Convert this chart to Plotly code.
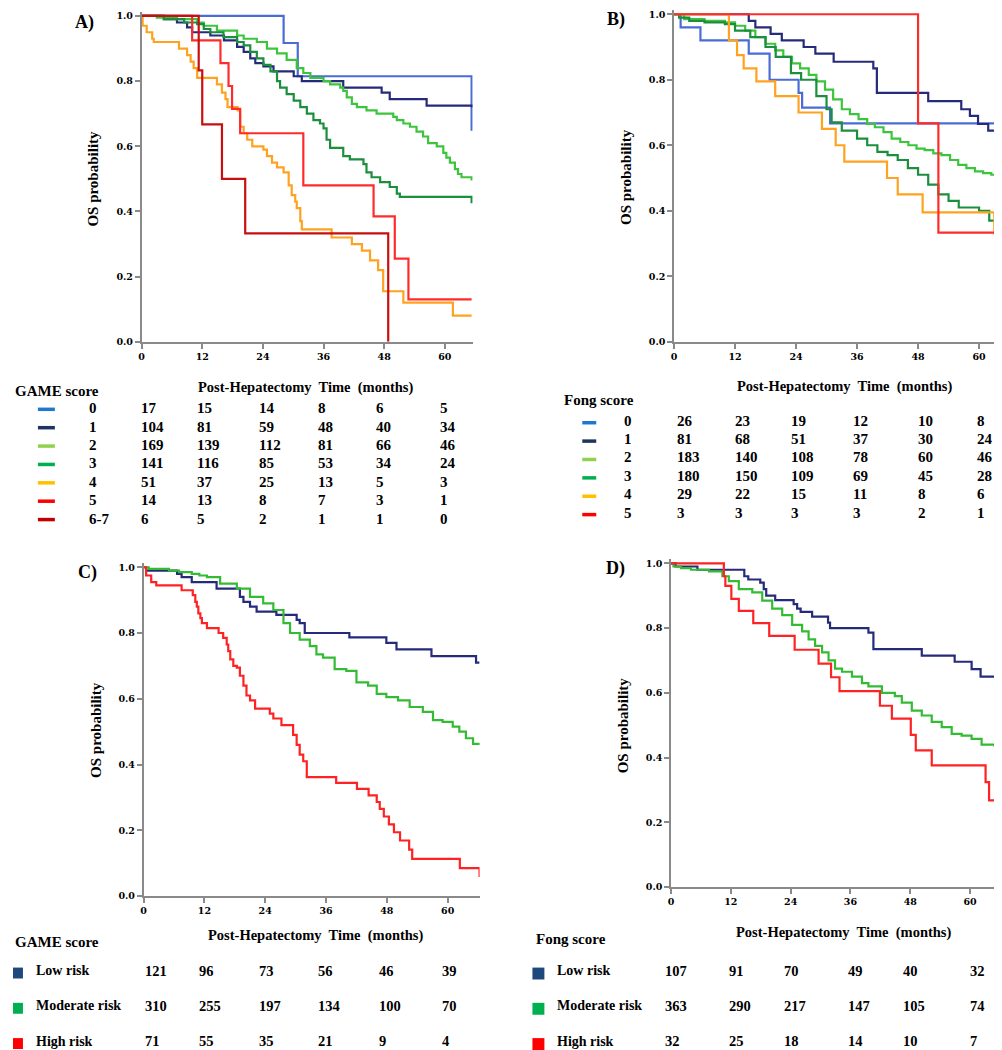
import plotly.graph_objects as go

W, H = 1002, 1050
SERIF = "Liberation Serif"

# ---------------- data ----------------
month_ticks = [0, 12, 24, 36, 48, 60]
surv_ticks = [0.0, 0.2, 0.4, 0.6, 0.8, 1.0]

# Panel A: GAME score groups
a_labels = ["0", "1", "2", "3", "4", "5", "6-7"]
a_t0 = [0, 28.1, 30.9, 65.3]
a_s0 = [1, 0.917, 0.815, 0.648]
a_t1 = [0, 4.4, 7.0, 9.0, 10.0, 13.6, 16.3, 18.9, 20.2, 21.5, 22.5, 24.1, 26.1, 30.1, 31.7, 39.9, 47.5, 49.1, 56.4, 65.3]
a_s1 = [1, 0.99, 0.98, 0.965, 0.95, 0.94, 0.925, 0.905, 0.89, 0.87, 0.855, 0.845, 0.83, 0.815, 0.80, 0.78, 0.765, 0.745, 0.725, 0.72]
a_t2 = [0, 3, 7, 11.0, 12.3, 14.9, 18.9, 20.2, 22.8, 24.8, 26.8, 28.7, 30.7, 32.0, 33.4, 36.0, 37.3, 39.3, 39.9, 40.6, 41.6, 42.6, 44.5, 46.5, 49.8, 50.5, 51.8, 53.1, 54.4, 55.7, 56.7, 58.4, 59.7, 60.3, 61.0, 62.0, 62.6, 63.3, 65.3]
a_s2 = [1, 0.995, 0.99, 0.98, 0.97, 0.955, 0.94, 0.93, 0.92, 0.90, 0.885, 0.865, 0.84, 0.825, 0.81, 0.80, 0.79, 0.78, 0.77, 0.75, 0.73, 0.72, 0.71, 0.70, 0.69, 0.68, 0.67, 0.66, 0.645, 0.63, 0.61, 0.60, 0.58, 0.565, 0.55, 0.53, 0.515, 0.505, 0.495]
a_t3 = [0, 4.4, 8.4, 11.0, 12.3, 13.6, 16.2, 18.9, 20.2, 21.5, 22.8, 24.1, 25.5, 26.8, 27.4, 28.7, 30.1, 31.4, 32.7, 34.0, 35.3, 36.0, 36.6, 37.3, 39.9, 41.2, 43.9, 44.5, 45.5, 47.2, 49.1, 50.5, 51.1, 65.3]
a_s3 = [1, 0.99, 0.98, 0.975, 0.96, 0.95, 0.935, 0.92, 0.91, 0.89, 0.87, 0.85, 0.83, 0.80, 0.78, 0.76, 0.74, 0.72, 0.70, 0.68, 0.67, 0.655, 0.62, 0.595, 0.57, 0.56, 0.545, 0.52, 0.505, 0.49, 0.475, 0.455, 0.445, 0.425]
a_t4 = [0, 0.2, 1.0, 2.1, 2.4, 7.4, 9.0, 9.7, 10.3, 11.0, 14.9, 15.9, 16.6, 17.0, 19.0, 19.5, 20.2, 20.9, 21.9, 24.1, 24.8, 25.8, 26.8, 28.1, 29.1, 29.7, 30.4, 30.7, 31.4, 31.7, 37.6, 41.6, 43.6, 45.2, 46.8, 47.8, 51.8, 61.6, 65.3]
a_s4 = [1, 0.97, 0.95, 0.93, 0.92, 0.90, 0.88, 0.86, 0.84, 0.81, 0.79, 0.765, 0.745, 0.72, 0.71, 0.66, 0.64, 0.62, 0.60, 0.59, 0.57, 0.55, 0.535, 0.52, 0.48, 0.45, 0.43, 0.41, 0.37, 0.345, 0.32, 0.30, 0.28, 0.25, 0.22, 0.155, 0.12, 0.08, 0.08]
a_t5 = [0, 10.0, 15.6, 17.2, 17.9, 19.5, 32.0, 45.9, 50.1, 52.8, 65.3]
a_s5 = [1, 0.925, 0.855, 0.785, 0.715, 0.64, 0.48, 0.385, 0.255, 0.13, 0.13]
a_t6 = [0, 11.3, 12.0, 15.9, 20.5, 48.8]
a_s6 = [1, 0.833, 0.667, 0.5, 0.333, 0.0]

a_risk0 = [17, 15, 14, 8, 6, 5]
a_risk1 = [104, 81, 59, 48, 40, 34]
a_risk2 = [169, 139, 112, 81, 66, 46]
a_risk3 = [141, 116, 85, 53, 34, 24]
a_risk4 = [51, 37, 25, 13, 5, 3]
a_risk5 = [14, 13, 8, 7, 3, 1]
a_risk6 = [6, 5, 2, 1, 1, 0]

# Panel B: Fong score groups
b_labels = ["0", "1", "2", "3", "4", "5"]
b_t0 = [0, 1.3, 5.2, 14.7, 18.8, 24.5, 25.2, 30.7, 65.3]
b_s0 = [1, 0.96, 0.92, 0.88, 0.80, 0.76, 0.715, 0.667, 0.667]
b_t1 = [0, 14.7, 16.0, 19.0, 21.2, 25.5, 27.8, 31.4, 39.2, 39.9, 50.0, 56.5, 58.2, 59.8, 61.8, 65.0, 65.3]
b_s1 = [1, 0.98, 0.96, 0.94, 0.92, 0.90, 0.88, 0.855, 0.835, 0.76, 0.735, 0.71, 0.69, 0.665, 0.645, 0.62, 0.62]
b_t2 = [0, 2, 6, 10, 12, 14, 16, 18, 19.9, 21.5, 23.2, 24.8, 26.5, 28, 29.7, 31.3, 33.0, 34.6, 36.3, 38, 39.5, 41.2, 42.8, 44.5, 46.1, 47.7, 49.3, 51, 52.6, 54.3, 55.9, 57.5, 59.2, 60.8, 62.4, 64, 65.3]
b_s2 = [1, 0.985, 0.98, 0.975, 0.965, 0.95, 0.93, 0.91, 0.89, 0.87, 0.85, 0.835, 0.815, 0.795, 0.77, 0.74, 0.71, 0.695, 0.68, 0.665, 0.655, 0.64, 0.62, 0.61, 0.60, 0.59, 0.585, 0.575, 0.57, 0.555, 0.54, 0.53, 0.52, 0.515, 0.51, 0.505, 0.495]
b_t3 = [0, 1, 3, 6, 10, 12, 15, 18, 20, 23, 25, 28, 30, 31, 33, 36, 38, 40, 42, 44, 46, 48, 50, 52, 54, 56, 60, 62, 65.3]
b_s3 = [1, 0.99, 0.98, 0.975, 0.97, 0.95, 0.93, 0.90, 0.87, 0.82, 0.80, 0.75, 0.71, 0.67, 0.645, 0.62, 0.60, 0.58, 0.57, 0.555, 0.53, 0.51, 0.48, 0.45, 0.43, 0.41, 0.40, 0.37, 0.36]
b_t4 = [0, 10.8, 12.4, 13.7, 16.2, 19.9, 24.5, 29.1, 31.8, 33.5, 41.9, 44.0, 48.9, 63.0, 63.7, 65.3]
b_s4 = [1, 0.92, 0.875, 0.835, 0.795, 0.75, 0.70, 0.65, 0.60, 0.55, 0.50, 0.45, 0.395, 0.33, 0.26, 0.26]
b_t5 = [0, 48.0, 52.0, 65.3]
b_s5 = [1, 0.667, 0.333, 0.333]

b_risk0 = [26, 23, 19, 12, 10, 8]
b_risk1 = [81, 68, 51, 37, 30, 24]
b_risk2 = [183, 140, 108, 78, 60, 46]
b_risk3 = [180, 150, 109, 69, 45, 28]
b_risk4 = [29, 22, 15, 11, 8, 6]
b_risk5 = [3, 3, 3, 3, 2, 1]

# Panel C: GAME risk groups
risk_labels = ["Low risk", "Moderate risk", "High risk"]
c_t_low = [0, 0.5, 6.6, 7.5, 9.5, 14.4, 19.0, 19.7, 21.0, 22.3, 26.2, 30.2, 30.8, 31.8, 40.6, 47.9, 49.9, 56.8, 65.6, 66.3]
c_s_low = [1, 0.99, 0.98, 0.97, 0.955, 0.935, 0.91, 0.895, 0.88, 0.865, 0.855, 0.84, 0.83, 0.80, 0.787, 0.77, 0.75, 0.73, 0.71, 0.71]
c_t_mod = [0, 1, 5, 7, 9.5, 11, 12.5, 15.1, 18.4, 21.0, 23.6, 25.6, 27.6, 28.9, 30.8, 32.8, 34.1, 35.4, 37.7, 40.0, 42.0, 44.3, 46.0, 47.9, 50.2, 52.5, 55.1, 57.1, 59.0, 61.0, 62.3, 63.6, 65.0, 66.3]
c_s_mod = [1, 0.995, 0.99, 0.985, 0.98, 0.975, 0.97, 0.95, 0.935, 0.91, 0.89, 0.87, 0.83, 0.80, 0.78, 0.76, 0.735, 0.725, 0.69, 0.685, 0.65, 0.64, 0.615, 0.605, 0.595, 0.575, 0.56, 0.535, 0.53, 0.515, 0.50, 0.48, 0.463, 0.46]
c_t_high = [0, 0.5, 1.5, 2.5, 7.5, 9.7, 10.2, 10.5, 10.8, 11.2, 11.5, 12.5, 14.8, 15.7, 16.4, 16.7, 17.1, 17.7, 18.4, 19.0, 19.7, 20.3, 21.0, 22.0, 24.9, 25.6, 27.2, 29.5, 30.2, 30.8, 31.5, 32.2, 38.0, 42.1, 44.4, 46.0, 46.6, 47.4, 48.4, 49.4, 50.6, 52.4, 53.0, 62.4, 66.3]
c_s_high = [1, 0.975, 0.955, 0.945, 0.93, 0.915, 0.895, 0.88, 0.86, 0.845, 0.83, 0.815, 0.80, 0.785, 0.765, 0.745, 0.72, 0.70, 0.695, 0.67, 0.64, 0.61, 0.595, 0.57, 0.555, 0.54, 0.52, 0.49, 0.46, 0.43, 0.41, 0.362, 0.344, 0.326, 0.306, 0.286, 0.265, 0.242, 0.218, 0.194, 0.169, 0.141, 0.113, 0.085, 0.058]

c_risk_low = [121, 96, 73, 56, 46, 39]
c_risk_mod = [310, 255, 197, 134, 100, 70]
c_risk_high = [71, 55, 35, 21, 9, 4]

# Panel D: Fong risk groups
d_t_low = [0, 0.9, 5.3, 14.7, 15.5, 17.9, 18.6, 19.1, 20.9, 24.6, 25.3, 26.0, 28.3, 31.5, 31.9, 39.6, 40.6, 50.3, 56.9, 60.3, 62.1, 65.6, 68]
d_s_low = [1, 0.99, 0.98, 0.96, 0.95, 0.94, 0.92, 0.90, 0.886, 0.874, 0.86, 0.85, 0.835, 0.817, 0.80, 0.786, 0.735, 0.715, 0.696, 0.673, 0.65, 0.63, 0.63]
d_t_mod = [0, 0.5, 2, 4, 7.6, 10.3, 11.6, 13.6, 16.3, 18.3, 20.3, 22.3, 24.3, 26.3, 27.6, 28.9, 30.3, 31.6, 32.9, 34.3, 36.3, 38.3, 39.6, 42.3, 44.9, 46.3, 48.3, 50.3, 52.3, 54.3, 56.3, 58.3, 60.3, 62.3, 64.9, 66.9, 68]
d_s_mod = [1, 0.99, 0.985, 0.98, 0.975, 0.96, 0.945, 0.92, 0.91, 0.885, 0.86, 0.84, 0.81, 0.79, 0.765, 0.745, 0.725, 0.70, 0.675, 0.665, 0.65, 0.63, 0.62, 0.60, 0.59, 0.57, 0.545, 0.53, 0.51, 0.494, 0.473, 0.468, 0.458, 0.44, 0.437, 0.418, 0.415]
d_t_high = [0, 10.6, 10.9, 12.1, 13.6, 16.5, 19.7, 24.8, 29.6, 32.1, 33.8, 41.9, 44.3, 48.1, 49.1, 52.3, 63.1, 63.8, 67.3, 68]
d_s_high = [1, 0.96, 0.93, 0.89, 0.853, 0.815, 0.776, 0.733, 0.69, 0.648, 0.605, 0.56, 0.52, 0.47, 0.422, 0.376, 0.324, 0.268, 0.213, 0.213]

d_risk_low = [107, 91, 70, 49, 40, 32]
d_risk_mod = [363, 290, 217, 147, 105, 74]
d_risk_high = [32, 25, 18, 14, 10, 7]

# ---------------- styles ----------------
line_cols = ["#4a6cd4", "#262a7a", "#3dc43d", "#1b8f3c", "#ffa21f", "#ff2b2b", "#c80f0f"]
swatch_cols = ["#1f77d0", "#1f3560", "#92d050", "#00b050", "#ffc000", "#ff0000", "#c00000"]
risk_line_cols = ["#262a7a", "#33bb33", "#ff2222"]
risk_sq_cols = ["#1f497d", "#00b050", "#ff0000"]


def px(x):
    return x / W


def py(y):
    return 1 - y / H


fig = go.Figure()

YMAX = 1.012
# (axis suffix, left px, right px, xmax, bottom px of 0.0, px of 1.0)
panels = {
    "A": ("", 131, 463, 65.5, 334, 6),
    "B": ("2", 665, 998, 65.3, 334, 4.3),
    "C": ("3", 133, 470, 66.3, 892, 561),
    "D": ("4", 662, 1002, 68.0, 883, 557),
}

axis_style = dict(showline=True, linecolor="#8a8a8a", linewidth=1.5, ticks="outside",
                  tickcolor="#8a8a8a", ticklen=5, tickwidth=1.5, showgrid=False,
                  zeroline=False, fixedrange=True,
                  tickfont=dict(family="DejaVu Serif", size=9.5, color="black", weight="bold"))

for key, (sfx, l, r, xmax, yb, y1) in panels.items():
    unit = yb - y1
    ytop = yb - YMAX * unit
    fig.layout["xaxis" + sfx] = dict(domain=[px(l), px(r)], range=[0, xmax], anchor="y" + sfx,
                                     tickvals=month_ticks, ticktext=[str(v) for v in month_ticks],
                                     **axis_style)
    fig.layout["yaxis" + sfx] = dict(domain=[py(yb), py(ytop)], range=[0, YMAX], anchor="x" + sfx,
                                     tickvals=surv_ticks, ticktext=[f"{v:.1f}" for v in surv_ticks],
                                     **axis_style)


def add_curve(t, s, color, sfx):
    fig.add_trace(go.Scatter(x=t, y=s, mode="lines", line=dict(color=color, width=2.2, shape="hv"),
                             xaxis="x" + sfx, yaxis="y" + sfx, showlegend=False, hoverinfo="skip"))


a_curves = [(a_t0, a_s0), (a_t1, a_s1), (a_t2, a_s2), (a_t3, a_s3), (a_t4, a_s4), (a_t5, a_s5), (a_t6, a_s6)]
for i in range(7):
    add_curve(a_curves[i][0], a_curves[i][1], line_cols[i], "")

b_curves = [(b_t0, b_s0), (b_t1, b_s1), (b_t2, b_s2), (b_t3, b_s3), (b_t4, b_s4), (b_t5, b_s5)]
for i in range(6):
    add_curve(b_curves[i][0], b_curves[i][1], line_cols[i], "2")

c_curves = [(c_t_low, c_s_low), (c_t_mod, c_s_mod), (c_t_high, c_s_high)]
for i in range(3):
    add_curve(c_curves[i][0], c_curves[i][1], risk_line_cols[i], "3")

d_curves = [(d_t_low, d_s_low), (d_t_mod, d_s_mod), (d_t_high, d_s_high)]
for i in range(3):
    add_curve(d_curves[i][0], d_curves[i][1], risk_line_cols[i], "4")

annotations = []
shapes = []


def txt(x, y, text, size, xanchor="left", angle=0):
    annotations.append(dict(x=px(x), y=py(y), xref="paper", yref="paper", text="<b>" + text + "</b>",
                            showarrow=False, xanchor=xanchor, yanchor="middle", textangle=angle,
                            font=dict(family=SERIF, size=size, color="black")))


# panel letters
txt(74, 13, "A)", 18, "center")
txt(607, 10, "B)", 18, "center")
txt(77, 566, "C)", 18, "center")
txt(606, 562, "D)", 18, "center")

# y titles
txt(82, 170, "OS probability", 15, "center", -90)
txt(617, 168, "OS probability", 15, "center", -90)
txt(85, 725, "OS probability", 15, "center", -90)
txt(614, 720, "OS probability", 15, "center", -90)

# x titles
XT = "Post-Hepatectomy  Time  (months)"
txt(295, 380, XT, 14.5, "center")
txt(836, 379, XT, 14.5, "center")
txt(305, 932, XT, 14.5, "center")
txt(835, 929, XT, 14.5, "center")

# Table A
txt(2, 384, "GAME score", 15)
a_rows = [a_risk0, a_risk1, a_risk2, a_risk3, a_risk4, a_risk5, a_risk6]
a_cols_x = [128, 185, 247, 306, 364, 428]
for i, (lab, row) in enumerate(zip(a_labels, a_rows)):
    yy = 401 + i * 18.5
    shapes.append(dict(type="line", xref="paper", yref="paper", x0=px(27), x1=px(44), y0=py(yy + 1), y1=py(yy + 1),
                       line=dict(color=swatch_cols[i], width=3.5)))
    txt(76, yy, lab, 15)
    for cx, v in zip(a_cols_x, row):
        txt(cx, yy, str(v), 15)

# Table B
txt(553, 393, "Fong score", 15)
b_rows = [b_risk0, b_risk1, b_risk2, b_risk3, b_risk4, b_risk5]
b_cols_x = [666, 724, 780, 843, 908, 967]
for i, (lab, row) in enumerate(zip(b_labels, b_rows)):
    yy = 413.5 + i * 18.5
    shapes.append(dict(type="line", xref="paper", yref="paper", x0=px(573), x1=px(587), y0=py(yy + 2), y1=py(yy + 2),
                       line=dict(color=swatch_cols[i], width=3.5)))
    txt(613, yy, lab, 15)
    for cx, v in zip(b_cols_x, row):
        txt(cx, yy, str(v), 15)

# Table C
txt(2, 938, "GAME score", 15)
c_rows = [c_risk_low, c_risk_mod, c_risk_high]
c_cols_x = [132, 187, 247, 306, 367, 430]
for i, (lab, row) in enumerate(zip(risk_labels, c_rows)):
    yy = 967 + i * 35.5
    shapes.append(dict(type="rect", xref="paper", yref="paper", x0=px(2), x1=px(12), y0=py(yy + 8), y1=py(yy - 3),
                       fillcolor=risk_sq_cols[i], line=dict(width=0)))
    txt(23, yy, lab, 14)
    for cx, v in zip(c_cols_x, row):
        txt(cx, yy, str(v), 14.5)

# Table D
txt(525, 935, "Fong score", 15)
d_rows = [d_risk_low, d_risk_mod, d_risk_high]
d_cols_x = [654, 718, 773, 838, 893, 960]
for i, (lab, row) in enumerate(zip(risk_labels, d_rows)):
    yy = 967 + i * 35.5
    shapes.append(dict(type="rect", xref="paper", yref="paper", x0=px(523), x1=px(535), y0=py(yy + 9), y1=py(yy - 3),
                       fillcolor=risk_sq_cols[i], line=dict(width=0)))
    txt(546, yy, lab, 14)
    for cx, v in zip(d_cols_x, row):
        txt(cx, yy, str(v), 14.5)

fig.update_layout(width=W, height=H, margin=dict(l=0, r=0, t=0, b=0),
                  paper_bgcolor="white", plot_bgcolor="white", showlegend=False,
                  annotations=annotations, shapes=shapes)

fig.write_html("out.html")
